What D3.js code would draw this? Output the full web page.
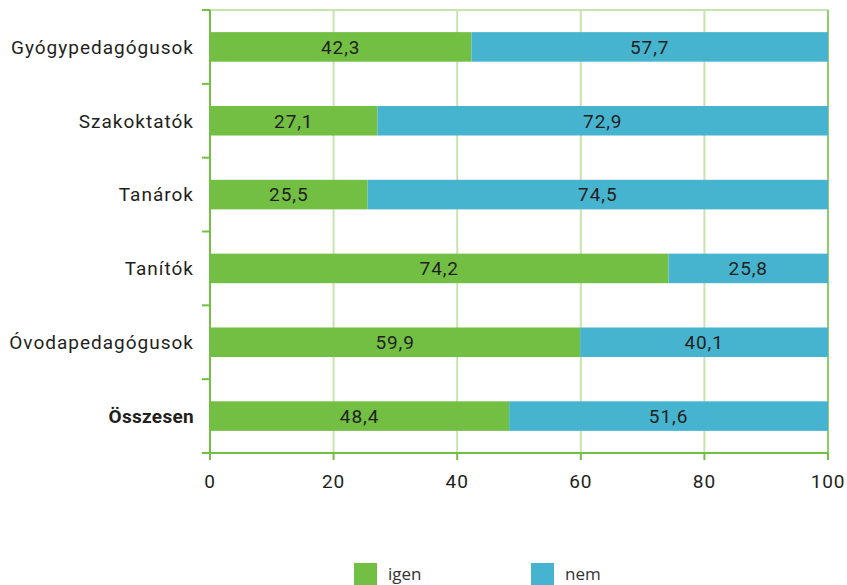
<!DOCTYPE html>
<html>
<head>
<meta charset="utf-8">
<script src="https://cdn.jsdelivr.net/npm/d3@7"></script>
<style>
  body { margin: 0; background: #fff; }
  text { font-family: Roboto, "Noto Sans", sans-serif; fill: #231f20; }
</style>
</head>
<body>
<script>
const categories = ["Gyógypedagógusok", "Szakoktatók", "Tanárok", "Tanítók", "Óvodapedagógusok", "Összesen"];
const igen = [42.3, 27.1, 25.5, 74.2, 59.9, 48.4];
const nem = [57.7, 72.9, 74.5, 25.8, 40.1, 51.6];
const seriesNames = ["igen", "nem"];
const colors = ["#72bf44", "#46b4cf"];
const xTicks = [0, 20, 40, 60, 80, 100];

const width = 847;
const height = 585;
const margin = { top: 10, right: 19, bottom: 132, left: 210 };

const svg = d3.select("body").append("svg")
  .attr("width", width)
  .attr("height", height);

const x = d3.scaleLinear()
  .domain([0, 100])
  .range([margin.left, width - margin.right]);

const y = d3.scaleBand()
  .domain(categories)
  .range([margin.top, height - margin.bottom])
  .paddingInner(0.6)
  .paddingOuter(0.3);

// gridlines
svg.append("g")
  .selectAll("line")
  .data(xTicks.slice(1, -1))
  .join("line")
  .attr("x1", d => x(d)).attr("x2", d => x(d))
  .attr("y1", margin.top).attr("y2", height - margin.bottom)
  .attr("stroke", "#c9e3ae")
  .attr("stroke-width", 2);

// top and right frame
svg.append("line")
  .attr("x1", x(0)).attr("x2", x(100))
  .attr("y1", margin.top).attr("y2", margin.top)
  .attr("stroke", "#c9e3ae").attr("stroke-width", 2);
svg.append("line")
  .attr("x1", x(100)).attr("x2", x(100))
  .attr("y1", margin.top).attr("y2", height - margin.bottom)
  .attr("stroke", "#8fcf6a").attr("stroke-width", 2);

// bars
const rows = categories.map((c, i) => ({ cat: c, vals: [igen[i], nem[i]] }));
const segs = [];
rows.forEach(r => {
  let start = 0;
  r.vals.forEach((v, k) => {
    segs.push({ cat: r.cat, k, v, x0: start, x1: start + v });
    start += v;
  });
});

svg.append("g")
  .selectAll("rect")
  .data(segs)
  .join("rect")
  .attr("x", d => x(d.x0))
  .attr("width", d => x(d.x1) - x(d.x0))
  .attr("y", d => y(d.cat))
  .attr("height", y.bandwidth())
  .attr("fill", d => colors[d.k]);

svg.append("g")
  .selectAll("text")
  .data(segs)
  .join("text")
  .attr("x", d => (x(d.x0) + x(d.x1)) / 2)
  .attr("y", d => y(d.cat) + y.bandwidth() / 2)
  .attr("dy", "0.36em")
  .attr("text-anchor", "middle")
  .style("font-size", "19px")
  .style("letter-spacing", "0.9px")
  .text(d => d3.format(".1f")(d.v).replace(".", ","));

// left axis
const bandStep = (height - margin.bottom - margin.top) / categories.length;
const yAxis = svg.append("g");
yAxis.append("line")
  .attr("x1", x(0)).attr("x2", x(0))
  .attr("y1", margin.top).attr("y2", height - margin.bottom + 6)
  .attr("stroke", "#72bf44").attr("stroke-width", 2);
yAxis.selectAll("line.tick")
  .data(d3.range(categories.length + 1))
  .join("line")
  .attr("class", "tick")
  .attr("x1", x(0) - 8).attr("x2", x(0))
  .attr("y1", i => margin.top + i * bandStep)
  .attr("y2", i => margin.top + i * bandStep)
  .attr("stroke", "#72bf44").attr("stroke-width", 2);
yAxis.selectAll("text")
  .data(categories)
  .join("text")
  .attr("x", x(0) - 16)
  .attr("y", d => y(d) + y.bandwidth() / 2)
  .attr("dy", "0.36em")
  .attr("text-anchor", "end")
  .style("font-size", "19px")
  .style("letter-spacing", d => d === "Összesen" ? "0.3px" : "1px")
  .style("font-weight", d => d === "Összesen" ? 700 : 400)
  .text(d => d);

// bottom axis
const xAxis = svg.append("g");
xAxis.append("line")
  .attr("x1", x(0)).attr("x2", x(100))
  .attr("y1", height - margin.bottom).attr("y2", height - margin.bottom)
  .attr("stroke", "#72bf44").attr("stroke-width", 2);
xAxis.selectAll("line.tick")
  .data(xTicks)
  .join("line")
  .attr("class", "tick")
  .attr("x1", d => x(d)).attr("x2", d => x(d))
  .attr("y1", height - margin.bottom).attr("y2", height - margin.bottom + 7)
  .attr("stroke", "#72bf44").attr("stroke-width", 2);
xAxis.selectAll("text")
  .data(xTicks)
  .join("text")
  .attr("x", d => x(d))
  .attr("y", height - margin.bottom + 28)
  .attr("dy", "0.36em")
  .attr("text-anchor", "middle")
  .style("font-size", "19px")
  .style("letter-spacing", "0.9px")
  .text(d => d);

// legend
const legend = svg.append("g");
const legendX = [354, 531];
legend.selectAll("rect")
  .data(seriesNames)
  .join("rect")
  .attr("x", (d, i) => legendX[i])
  .attr("y", 563)
  .attr("width", 23)
  .attr("height", 23)
  .attr("fill", (d, i) => colors[i]);
legend.selectAll("text")
  .data(seriesNames)
  .join("text")
  .attr("x", (d, i) => legendX[i] + 34)
  .attr("y", 580)
  .style("font-family", "'Open Sans', sans-serif")
  .style("font-size", "17px")
  .style("fill", "#333")
  .text(d => d);
</script>
</body>
</html>
